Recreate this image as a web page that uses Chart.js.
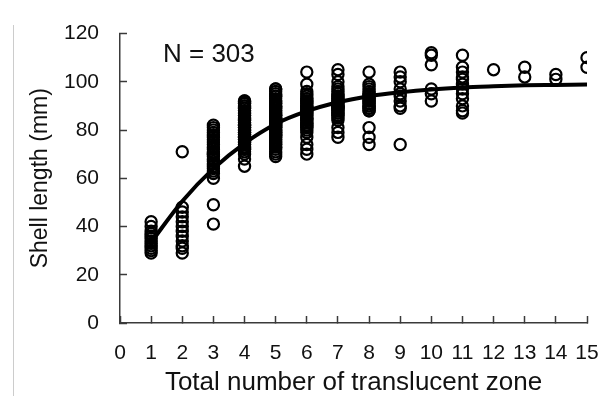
<!DOCTYPE html>
<html><head><meta charset="utf-8">
<script src="https://cdn.jsdelivr.net/npm/chart.js@4.4.1/dist/chart.umd.min.js"></script>
<style>
html,body{margin:0;padding:0;background:#fff;}
#wrap{position:relative;width:600px;height:396px;overflow:hidden;}
#frame{position:absolute;left:13px;top:25px;width:1px;height:371px;background:#cccccc;}
canvas{position:absolute;left:0;top:0;}
</style></head><body>
<div id="wrap"><div id="frame"></div><canvas id="c" width="600" height="396"></canvas></div>
<script>
// ---- data ----
const zones = [1,2,3,4,5,6,7,8,9,10,11,12,13,14,15];
const len1 = [29,30,31,32,33,34,35,36,37,38,40,42];
const len2 = [29,31,32,34,36,38,40,42,44,46,48,71];
const len3 = [41,49,60,62,63,64,65,66,67,68,69,70,70,71,72,73,74,75,76,77,78,79,80,81,82];
const len4 = [65,68,70,71,72,72,73,73,74,74,75,75,75,76,76,76,77,77,77,78,78,78,79,79,79,80,80,80,81,81,81,82,82,82,83,83,84,84,85,85,86,86,87,87,88,88,89,89,90,90,91,91,92,92,91.5];
const len5 = [69,70,71,72,73,73,74,74,75,75,76,76,77,77,78,78,78,79,79,79,80,80,80,81,81,81,82,82,82,83,83,83,84,84,84,85,85,85,86,86,86,87,87,88,88,89,89,90,90,91,91,92,92,93,94,94,95,96,97,97];
const len6 = [70,72,74,77,79,80,81,81,82,82,83,83,84,84,85,85,86,86,87,87,88,88,88,89,89,90,90,91,91,92,92,93,93,94,95,96,99,104];
const len7 = [77,79,81,84,85,86,86,87,87,88,88,89,89,89,90,90,90,91,91,92,92,93,93,94,94,95,96,97,98,100,103,105];
const len8 = [74,77,81,88,88,89,89,90,90,91,91,92,92,93,93,94,94,95,95,96,97,98,99,104];
const len9 = [74,89,90,92,94,95,97,100,102,104];
const len10 = [92,95,97,107,111,112];
const len11 = [87,88,90,93,95,97,99,101,102,104,106,111];
const len12 = [105];
const len13 = [102,106];
const len14 = [101,103];
const len15 = [106,110];
const fitted = [33.5,50.5,64,74.5,82.5,87.8,91.5,94,95.6,96.8,97.6,98.1,98.5,98.7,98.9];
const xTickValues = [0,1,2,3,4,5,6,7,8,9,10,11,12,13,14,15];
const yTickValues = [0,20,40,60,80,100,120];
const xTitle = 'Total number of translucent zone';
const yTitle = 'Shell length (mm)';
const sampleLabel = 'N = 303';

// ---- build datasets ----
const groups = [len1,len2,len3,len4,len5,len6,len7,len8,len9,len10,len11,len12,len13,len14,len15];
const points = [];
groups.forEach((arr, i) => arr.forEach(v => points.push({x: zones[i], y: v})));
const curve = zones.map((z, i) => ({x: z, y: fitted[i]}));

const FONT = '"Liberation Sans", Arial, sans-serif';
const TXT = '#111111';
const AX = '#3a3a3a';

const nLabel = {
  id: 'nLabel',
  afterDraw(chart) {
    const ctx = chart.ctx;
    ctx.save();
    ctx.fillStyle = TXT;
    ctx.font = '26px ' + FONT;
    ctx.textAlign = 'left';
    ctx.textBaseline = 'middle';
    ctx.fillText(sampleLabel, chart.chartArea.left + 43, 55);
    ctx.restore();
  }
};

new Chart(document.getElementById('c'), {
  type: 'scatter',
  data: {
    datasets: [
      {
        type: 'line',
        data: curve,
        borderColor: '#000',
        borderWidth: 4,
        pointRadius: 0,
        cubicInterpolationMode: 'monotone',
        fill: false,
        order: 0
      },
      {
        data: points,
        pointStyle: 'circle',
        pointRadius: 5.6,
        pointBorderWidth: 2.2,
        pointBackgroundColor: 'rgba(0,0,0,0)',
        pointBorderColor: '#000',
        showLine: false,
        order: 1
      }
    ]
  },
  options: {
    responsive: false,
    devicePixelRatio: 1,
    animation: false,
    layout: {padding: {left: 0, right: 13, top: 33.5, bottom: 0}},
    plugins: {legend: {display: false}, tooltip: {enabled: false}},
    scales: {
      x: {
        type: 'linear', min: 0, max: 15,
        afterBuildTicks: s => { s.ticks = xTickValues.map(v => ({value: v})); },
        afterFit: s => { s.height = 73; s.paddingLeft = 0; s.paddingRight = 0; },
        ticks: {autoSkip: false, maxRotation: 0, color: TXT, padding: 25, font: {family: FONT, size: 21}},
        grid: {drawOnChartArea: false, drawTicks: true, tickLength: -7, tickColor: AX, tickWidth: 1.5},
        border: {display: true, color: AX, width: 1.5},
        title: {display: true, text: xTitle, color: TXT, font: {family: FONT, size: 26, lineHeight: 1}, padding: {top: 0, bottom: 0}}
      },
      y: {
        type: 'linear', min: 0, max: 120,
        afterBuildTicks: s => { s.ticks = yTickValues.map(v => ({value: v})); },
        afterFit: s => { s.width = 120; s.paddingTop = 0; s.paddingBottom = 0; },
        ticks: {color: TXT, padding: 28, font: {family: FONT, size: 21}},
        grid: {drawOnChartArea: false, drawTicks: true, tickLength: -7, tickColor: AX, tickWidth: 1.5},
        border: {display: true, color: AX, width: 1.5},
        title: {display: true, text: yTitle, color: TXT, font: {family: FONT, size: 23, lineHeight: 1}, padding: {top: 29, bottom: 0}}
      }
    }
  },
  plugins: [nLabel]
});
</script>
</body></html>
